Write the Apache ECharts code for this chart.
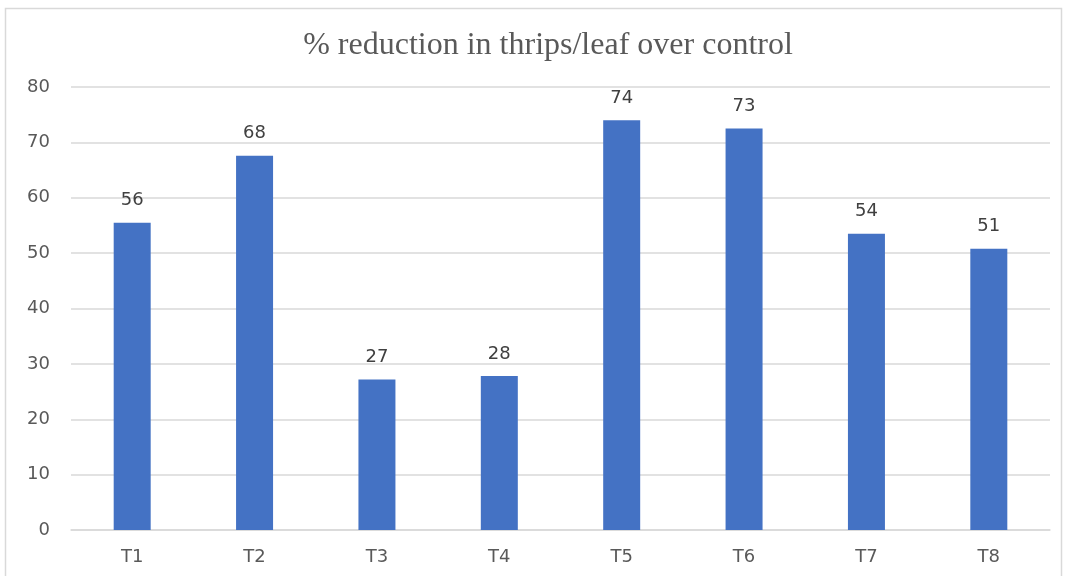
<!DOCTYPE html>
<html>
<head>
<meta charset="utf-8">
<script src="https://cdn.jsdelivr.net/npm/echarts@6/dist/echarts.min.js"></script>
<style>
html,body{margin:0;padding:0;background:#fff;}
#chart{width:1067px;height:576px;}
</style>
</head>
<body>
<div id="chart"></div>
<script>
const categories = ['T1','T2','T3','T4','T5','T6','T7','T8'];
const reduction = [55.5, 67.6, 27.2, 27.8, 74.0, 72.5, 53.5, 50.8];
const yTicks = {min: 0, max: 80, interval: 10};

const chart = echarts.init(document.getElementById('chart'), null, {renderer: 'canvas'});
chart.setOption({
  backgroundColor: '#ffffff',
  animation: false,
  graphic: [{
    type: 'rect',
    shape: {x: 5.5, y: 8.5, width: 1056, height: 600},
    style: {fill: 'none', stroke: '#d9d9d9', lineWidth: 1.5},
    silent: true
  }],
  title: {
    text: '% reduction in thrips/leaf over control',
    left: 543,
    textAlign: 'center',
    top: 25,
    textStyle: {
      fontFamily: 'Liberation Serif',
      fontSize: 32,
      fontWeight: 'normal',
      color: '#595959'
    }
  },
  grid: {left: 71, right: 17, top: 87, bottom: 46, containLabel: false},
  xAxis: {
    type: 'category',
    data: categories,
    axisLine: {show: true, lineStyle: {color: '#d9d9d9', width: 1.5}},
    axisTick: {show: false},
    axisLabel: {
      color: '#595959',
      fontFamily: 'DejaVu Sans',
      fontSize: 18,
      margin: 18
    }
  },
  yAxis: {
    type: 'value',
    min: yTicks.min,
    max: yTicks.max,
    interval: yTicks.interval,
    axisLine: {show: false},
    axisTick: {show: false},
    splitLine: {lineStyle: {color: '#d9d9d9', width: 1.5}},
    axisLabel: {
      color: '#595959',
      fontFamily: 'DejaVu Sans',
      fontSize: 18,
      margin: 21
    }
  },
  series: [{
    type: 'bar',
    data: reduction,
    barWidth: 37,
    itemStyle: {color: '#4472c4'},
    label: {
      show: true,
      position: 'top',
      distance: 13,
      color: '#404040',
      fontFamily: 'DejaVu Sans',
      fontSize: 18,
      formatter: p => Math.round(p.value)
    }
  }]
});
</script>
</body>
</html>
